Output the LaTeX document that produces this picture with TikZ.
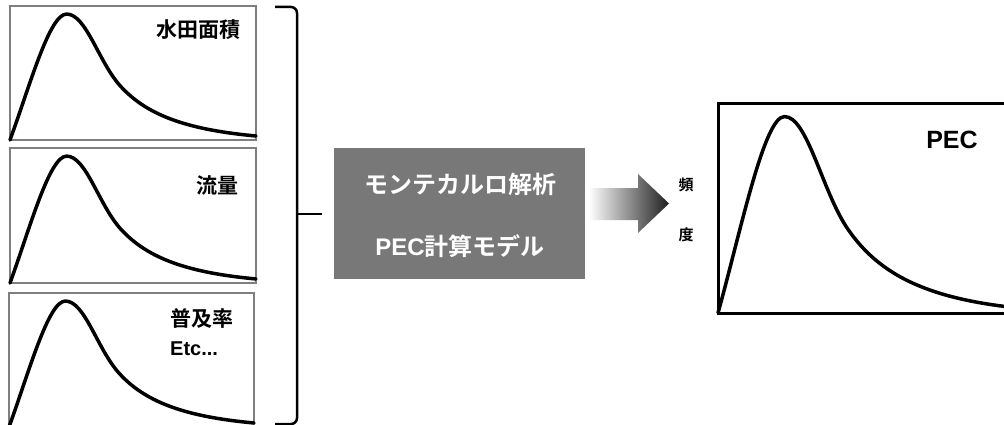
\documentclass[tikz,border=0pt]{standalone}
\usepackage{fontspec}
\setmainfont{Liberation Sans}
\newfontfamily\jp{Noto Sans CJK JP}[BoldFont={Noto Sans CJK JP Bold}]
\definecolor{boxgray}{HTML}{787878}
\definecolor{panelgray}{HTML}{7F7F7F}
\newcommand\distcurve[4]{%
  \begin{scope}[shift={(#1,#2)}, x=#3pt, y=-#4pt]
    \draw[dist] (0,1) .. controls (0.08,0.6) and (0.16,0.06) .. (0.23,0.06)
      .. controls (0.31,0.06) and (0.36,0.42) .. (0.45,0.6)
      .. controls (0.55,0.8) and (0.7,0.92) .. (1,0.97);
  \end{scope}}
\begin{document}
\begin{tikzpicture}[x=1pt,y=-1pt,
  panel/.style={draw=panelgray, line width=1.3pt},
  dist/.style={line width=3.5pt, line join=round, line cap=round},
  lbl/.style={font=\jp\bfseries\fontsize{21pt}{23pt}\selectfont, anchor=east, inner sep=0pt},
  ctext/.style={font=\jp\bfseries\fontsize{24pt}{26pt}\selectfont, text=white, inner sep=0pt},
]
\useasboundingbox (0,0) rectangle (1004,425);
\clip (0,0) rectangle (1004,425);
\fill[white] (0,0) rectangle (1004,425);

% left panels
\draw[panel] (10,6) rectangle (256,140);
\draw[panel] (10,148) rectangle (256,283);
\draw[panel] (9,293) rectangle (254,428);
\distcurve{10}{6}{246}{134}
\distcurve{10}{148}{246}{135}
\distcurve{9}{293}{245}{134}
\node[lbl] (l1) at (241,30) {水田面積};
\node[lbl] (l2) at (239,185) {流量};
\node[lbl, anchor=west] (l3) at (170,318) {普及率};
\node[anchor=west, inner sep=0pt, font=\bfseries\fontsize{20pt}{22pt}\selectfont] (l4) at (170,349) {Etc...};

% bracket
\draw[line width=2.5pt, rounded corners=6pt] (275,7) -- (297,7) -- (297,424) -- (275,424);
\coordinate (brk) at (297,214);

% centre box
\node[fill=boxgray, minimum width=251pt, minimum height=131pt, inner sep=0pt] (mc) at (459.5,213.5) {};
\node[ctext] (t1) at (460,184) {モンテカルロ解析};
\node[ctext] (t2) at (460,246) {{\fontspec{Liberation Sans}[BoldFont={Liberation Sans Bold}]PEC}計算モデル};
\draw[line width=2.5pt] (brk) -- (322,214);

% arrow
\shade[left color=white, right color=black!88] (589,188) -- (638,188) -- (638,174) -- (669,203.5) -- (638,233) -- (638,220) -- (589,220) -- cycle;

% frequency label
\node[font=\jp\bfseries\fontsize{15pt}{16pt}\selectfont, inner sep=0pt] (f1) at (686,185) {頻};
\node[font=\jp\bfseries\fontsize{15pt}{16pt}\selectfont, inner sep=0pt] (f2) at (686,235) {度};

% result panel
\draw[line width=3pt] (1012,104) -- (718,104) -- (718,313) -- (1012,313);
\distcurve{718}{104}{289}{209}
\node[font=\bfseries\fontsize{25pt}{27pt}\selectfont, inner sep=0pt] (pec) at (952,140) {PEC};
\end{tikzpicture}
\end{document}
